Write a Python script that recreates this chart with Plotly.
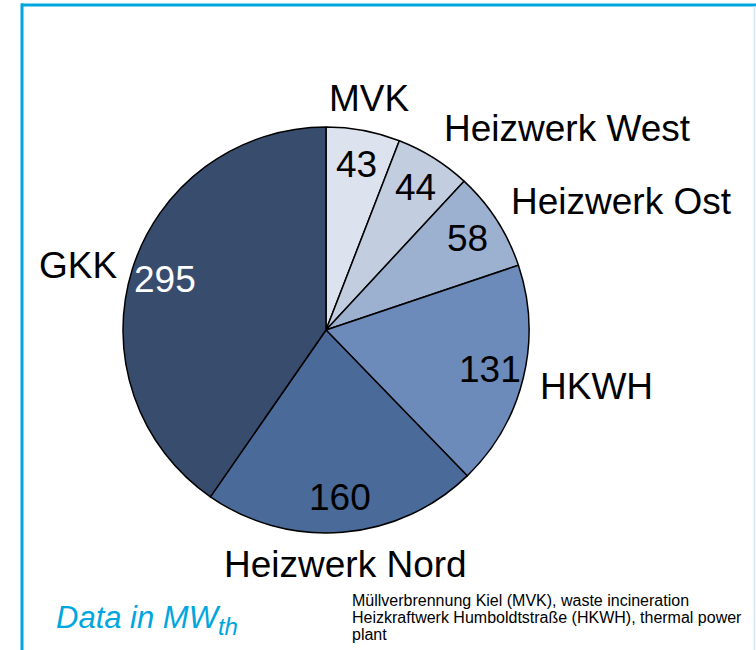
import math
import plotly.graph_objects as go

W, H = 756, 650

# ---- data ----
labels = ["MVK", "Heizwerk West", "Heizwerk Ost", "HKWH", "Heizwerk Nord", "GKK"]
values = [43, 44, 58, 131, 160, 295]
colors = ["#DDE3EE", "#C3CDE0", "#9CB0D0", "#6C8BBA", "#4A6A9A", "#384C6E"]
value_font_colors = ["black", "black", "black", "black", "black", "white"]
note_lines = ["Müllverbrennung Kiel (MVK), waste incineration",
              "Heizkraftwerk Humboldtstraße (HKWH), thermal power",
              "plant"]


def px(x):
    return x / W


def py(y):
    return 1 - y / H


# ---- geometry of pie (page pixels) ----
cx, cy, R = 326, 330, 203
dom_x = [px(cx - R), px(cx + R)]
dom_y = [py(cy + R), py(cy - R)]

fig = go.Figure(go.Pie(
    labels=labels, values=values, sort=False, direction="clockwise", rotation=0,
    marker=dict(colors=colors, line=dict(color="black", width=1.5)),
    textinfo="none", hoverinfo="label+value", showlegend=False,
    domain=dict(x=dom_x, y=dom_y),
))

FONT = "Liberation Sans, Arial, sans-serif"
total = sum(values)
cum = 0
annotations = []
for lab, v, fc in zip(labels, values, value_font_colors):
    mid = (cum + v / 2) / total * 2 * math.pi
    cum += v
    s, c = math.sin(mid), math.cos(mid)
    rv = 0.83 * R
    annotations.append(dict(
        x=px(cx + rv * s), y=py(cy - rv * c), xref="paper", yref="paper",
        text=str(v), showarrow=False, xanchor="center", yanchor="middle",
        font=dict(family=FONT, size=37, color=fc)))
    if abs(s) < 0.3:
        xa = "center"
        lx, ly = cx + 1.16 * R * s, cy - 1.16 * R * c
    elif s > 0:
        xa = "left"
        lx, ly = cx + 1.075 * R * s, cy - (1.09 * R + 16) * c
    else:
        xa = "right"
        lx, ly = cx + 1.07 * R * s, cy - 1.07 * R * c
    annotations.append(dict(
        x=px(lx), y=py(ly), xref="paper", yref="paper",
        text=lab, showarrow=False, xanchor=xa, yanchor="middle",
        font=dict(family=FONT, size=37, color="black")))

annotations.append(dict(
    x=px(54), y=py(620), xref="paper", yref="paper", showarrow=False,
    xanchor="left", yanchor="middle",
    text="<i>Data in MW<sub><span style='font-size:24px'>th</span></sub></i>",
    font=dict(family=FONT, size=31, color="#00A6DE")))
for i, line in enumerate(note_lines):
    annotations.append(dict(
        x=px(350), y=py(600 + 17 * i), xref="paper", yref="paper", showarrow=False,
        xanchor="left", yanchor="middle", align="left",
        text=line, font=dict(family=FONT, size=16, color="black")))

shapes = [
    dict(type="line", xref="paper", yref="paper", x0=px(22), x1=px(22), y0=0, y1=py(3.5),
         line=dict(color="#00A6DE", width=3)),
    dict(type="line", xref="paper", yref="paper", x0=px(21), x1=1, y0=py(5), y1=py(5),
         line=dict(color="#00A6DE", width=3)),
    dict(type="line", xref="paper", yref="paper", x0=px(754.5), x1=px(754.5), y0=0, y1=py(6),
         line=dict(color="#CFE8F2", width=1.5)),
]

fig.update_layout(
    width=W, height=H, margin=dict(l=0, r=0, t=0, b=0),
    paper_bgcolor="white", plot_bgcolor="white",
    annotations=annotations, shapes=shapes,
)

fig.write_html("out.html", post_script="document.body.style.margin='0';",
               config={"displayModeBar": False})
